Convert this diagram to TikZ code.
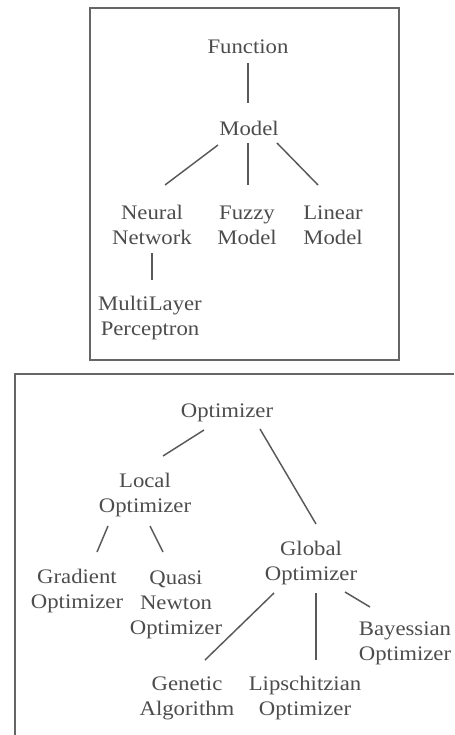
\documentclass[tikz,border=0pt]{standalone}
\usepackage{fontspec}
\setmainfont{Liberation Serif}[FakeStretch=1.1]
\tikzset{
  lbl/.style={align=center, text=black!70, font=\fontsize{15.5}{18.75}\selectfont, inner sep=0pt},
  link/.style={draw=black!65, line width=1.1pt},
  frame/.style={draw=black!60, line width=1.5pt}
}
\begin{document}
\begin{tikzpicture}[x=0.75pt,y=-0.75pt]
	\useasboundingbox (0,0) rectangle (454,735);
	% frames
	\draw[frame] (90,8) rectangle (399,360);
	\draw[frame] (15,735) -- (15,374) -- (454,374);
	% function tree
	\node[lbl] (fun) at (248,47) {Function};
	\node[lbl] (model) at (249,128) {Model};
	\node[lbl] (nn) at (152,225) {Neural\\Network};
	\node[lbl] (fuzzy) at (247,225) {Fuzzy\\Model};
	\node[lbl] (linear) at (333,225) {Linear\\Model};
	\node[lbl] (mlp) at (150,318) {MultiLayer\\Perceptron};
	\draw[link] ([shift={(0,16)}]fun.center) -- ([shift={(-1,-25)}]model.center);
	\draw[link] ([shift={(-31,17)}]model.center) -- ([shift={(13,-40)}]nn.center);
	\draw[link] ([shift={(-1,15)}]model.center) -- ([shift={(1,-40)}]fuzzy.center);
	\draw[link] ([shift={(28,15)}]model.center) -- ([shift={(-15,-40)}]linear.center);
	\draw[link] ([shift={(0,28)}]nn.center) -- ([shift={(2,-38)}]mlp.center);
	% optimizer tree
	\node[lbl] (opt) at (227,413) {Optimizer};
	\node[lbl] (local) at (145,495) {Local\\Optimizer};
	\node[lbl] (glob) at (311,563) {Global\\Optimizer};
	\node[lbl] (grad) at (77,591) {Gradient\\Optimizer};
	\node[lbl] (quasi) at (176,605) {Quasi\\Newton\\Optimizer};
	\node[lbl] (bayes) at (405,643) {Bayessian\\Optimizer};
	\node[lbl] (gen) at (187,698) {Genetic\\Algorithm};
	\node[lbl] (lip) at (305,698) {Lipschitzian\\Optimizer};
	\draw[link] ([shift={(-23,17)}]opt.center) -- ([shift={(18,-39)}]local.center);
	\draw[link] ([shift={(33,16)}]opt.center) -- ([shift={(5,-39)}]glob.center);
	\draw[link] ([shift={(-37,31)}]local.center) -- ([shift={(20,-39)}]grad.center);
	\draw[link] ([shift={(5,31)}]local.center) -- ([shift={(-13,-53)}]quasi.center);
	\draw[link] ([shift={(-37,30)}]glob.center) -- ([shift={(18,-38)}]gen.center);
	\draw[link] ([shift={(5,30)}]glob.center) -- ([shift={(11,-38)}]lip.center);
	\draw[link] ([shift={(34,29)}]glob.center) -- ([shift={(-35,-36)}]bayes.center);
\end{tikzpicture}
\end{document}
